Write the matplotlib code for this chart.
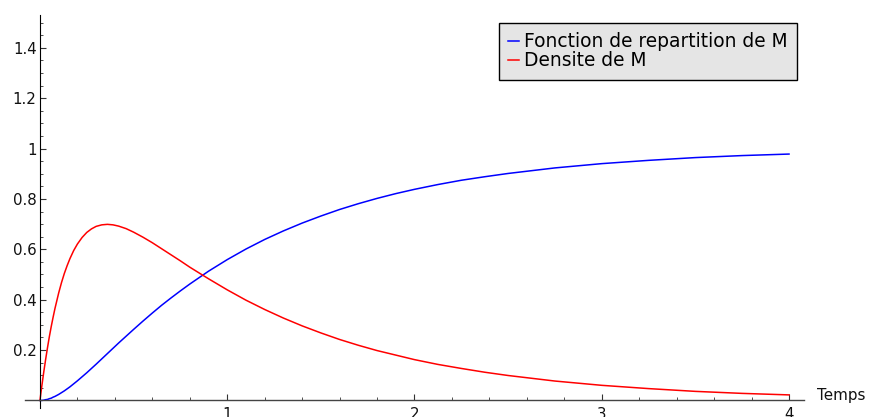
import matplotlib
matplotlib.use("Agg")
import matplotlib.pyplot as plt
from matplotlib.ticker import MultipleLocator, FixedLocator

# Temps (x values)
temps = [0, 0.005, 0.01, 0.02, 0.03, 0.04, 0.05, 0.06, 0.07, 0.08, 0.10, 0.115,
         0.13, 0.145, 0.16, 0.18, 0.20, 0.225, 0.25, 0.275, 0.30, 0.33, 0.36,
         0.39, 0.42, 0.46, 0.50, 0.55, 0.60, 0.65, 0.70, 0.75, 0.80, 0.90, 1.0,
         1.1, 1.2, 1.3, 1.4, 1.5, 1.6, 1.7, 1.8, 1.9, 2.0, 2.125, 2.25, 2.375,
         2.5, 2.75, 3.0, 3.25, 3.5, 3.75, 4.0]
# Fonction de repartition de M
repartition = [0.000, 0.000, 0.000, 0.001, 0.003, 0.004, 0.007, 0.009, 0.013,
               0.016, 0.024, 0.031, 0.038, 0.046, 0.054, 0.066, 0.078, 0.094,
               0.110, 0.127, 0.144, 0.165, 0.186, 0.207, 0.228, 0.255, 0.282,
               0.315, 0.347, 0.378, 0.407, 0.435, 0.462, 0.513, 0.559, 0.601,
               0.639, 0.673, 0.704, 0.732, 0.758, 0.781, 0.802, 0.821, 0.838,
               0.857, 0.874, 0.888, 0.901, 0.923, 0.940, 0.953, 0.964, 0.972,
               0.978]
# Densite de M
densite = [0.000, 0.030, 0.058, 0.112, 0.162, 0.209, 0.253, 0.293, 0.330,
           0.365, 0.427, 0.468, 0.504, 0.535, 0.563, 0.595, 0.621, 0.647,
           0.667, 0.681, 0.691, 0.697, 0.699, 0.697, 0.692, 0.682, 0.668,
           0.648, 0.626, 0.602, 0.578, 0.554, 0.529, 0.483, 0.439, 0.398,
           0.361, 0.327, 0.296, 0.268, 0.242, 0.219, 0.198, 0.180, 0.162,
           0.143, 0.127, 0.112, 0.099, 0.077, 0.060, 0.047, 0.036, 0.028,
           0.022]

x_ticks = [1, 2, 3, 4]
x_tick_labels = ["1", "2", "3", "4"]
y_ticks = [0.2, 0.4, 0.6, 0.8, 1.0, 1.2, 1.4]
y_tick_labels = ["0.2", "0.4", "0.6", "0.8", "1", "1.2", "1.4"]

W, H = 869, 417
fig = plt.figure(figsize=(W / 100, H / 100), dpi=100)
ax = fig.add_axes([25 / W, 1 - 408 / H, (804 - 25) / W, (408 - 15) / H])

ax.plot(temps, repartition, color="#0000ff", lw=1.1, label="Fonction de repartition de M")
ax.plot(temps, densite, color="#ff0000", lw=1.1, label="Densite de M")

ax.set_xlim(-0.08, 4.08)
ax.set_ylim(-0.03, 1.53)

for s in ["top", "right"]:
    ax.spines[s].set_visible(False)
ax.spines["left"].set_position(("data", 0))
ax.spines["bottom"].set_position(("data", 0))
ax.spines["left"].set_color("#000000")
ax.spines["left"].set_linewidth(0.8)
ax.spines["bottom"].set_color("#444444")
ax.spines["bottom"].set_linewidth(1.0)

ax.xaxis.set_major_locator(FixedLocator(x_ticks))
ax.set_xticklabels(x_tick_labels)
ax.yaxis.set_major_locator(FixedLocator(y_ticks))
ax.set_yticklabels(y_tick_labels)
ax.xaxis.set_minor_locator(MultipleLocator(0.2))
ax.yaxis.set_minor_locator(MultipleLocator(0.05))

ax.tick_params(which="major", direction="in", length=4.5, width=0.8, colors="#333333",
               labelsize=10.8, labelcolor="#111111")
ax.tick_params(which="minor", direction="in", length=2.5, width=0.6, colors="#333333")
ax.tick_params(axis="x", which="major", pad=5)
ax.tick_params(axis="y", which="major", pad=2.4)

ax.text(4.15, 0, "Temps", fontsize=10.9, color="#111111", ha="left", va="baseline",
        transform=ax.transData, clip_on=False)

leg = ax.legend(loc="upper left", bbox_to_anchor=(499 / W, 1 - 23 / H),
                bbox_transform=fig.transFigure, fontsize=13.4, frameon=True,
                fancybox=False, edgecolor="#000000", facecolor="#e5e5e5",
                framealpha=1, handlelength=0.55, handletextpad=0.3,
                labelspacing=0.0, borderpad=0.5, borderaxespad=0)
leg.get_frame().set_linewidth(1.0)

fig.savefig("out.png", dpi=100)
